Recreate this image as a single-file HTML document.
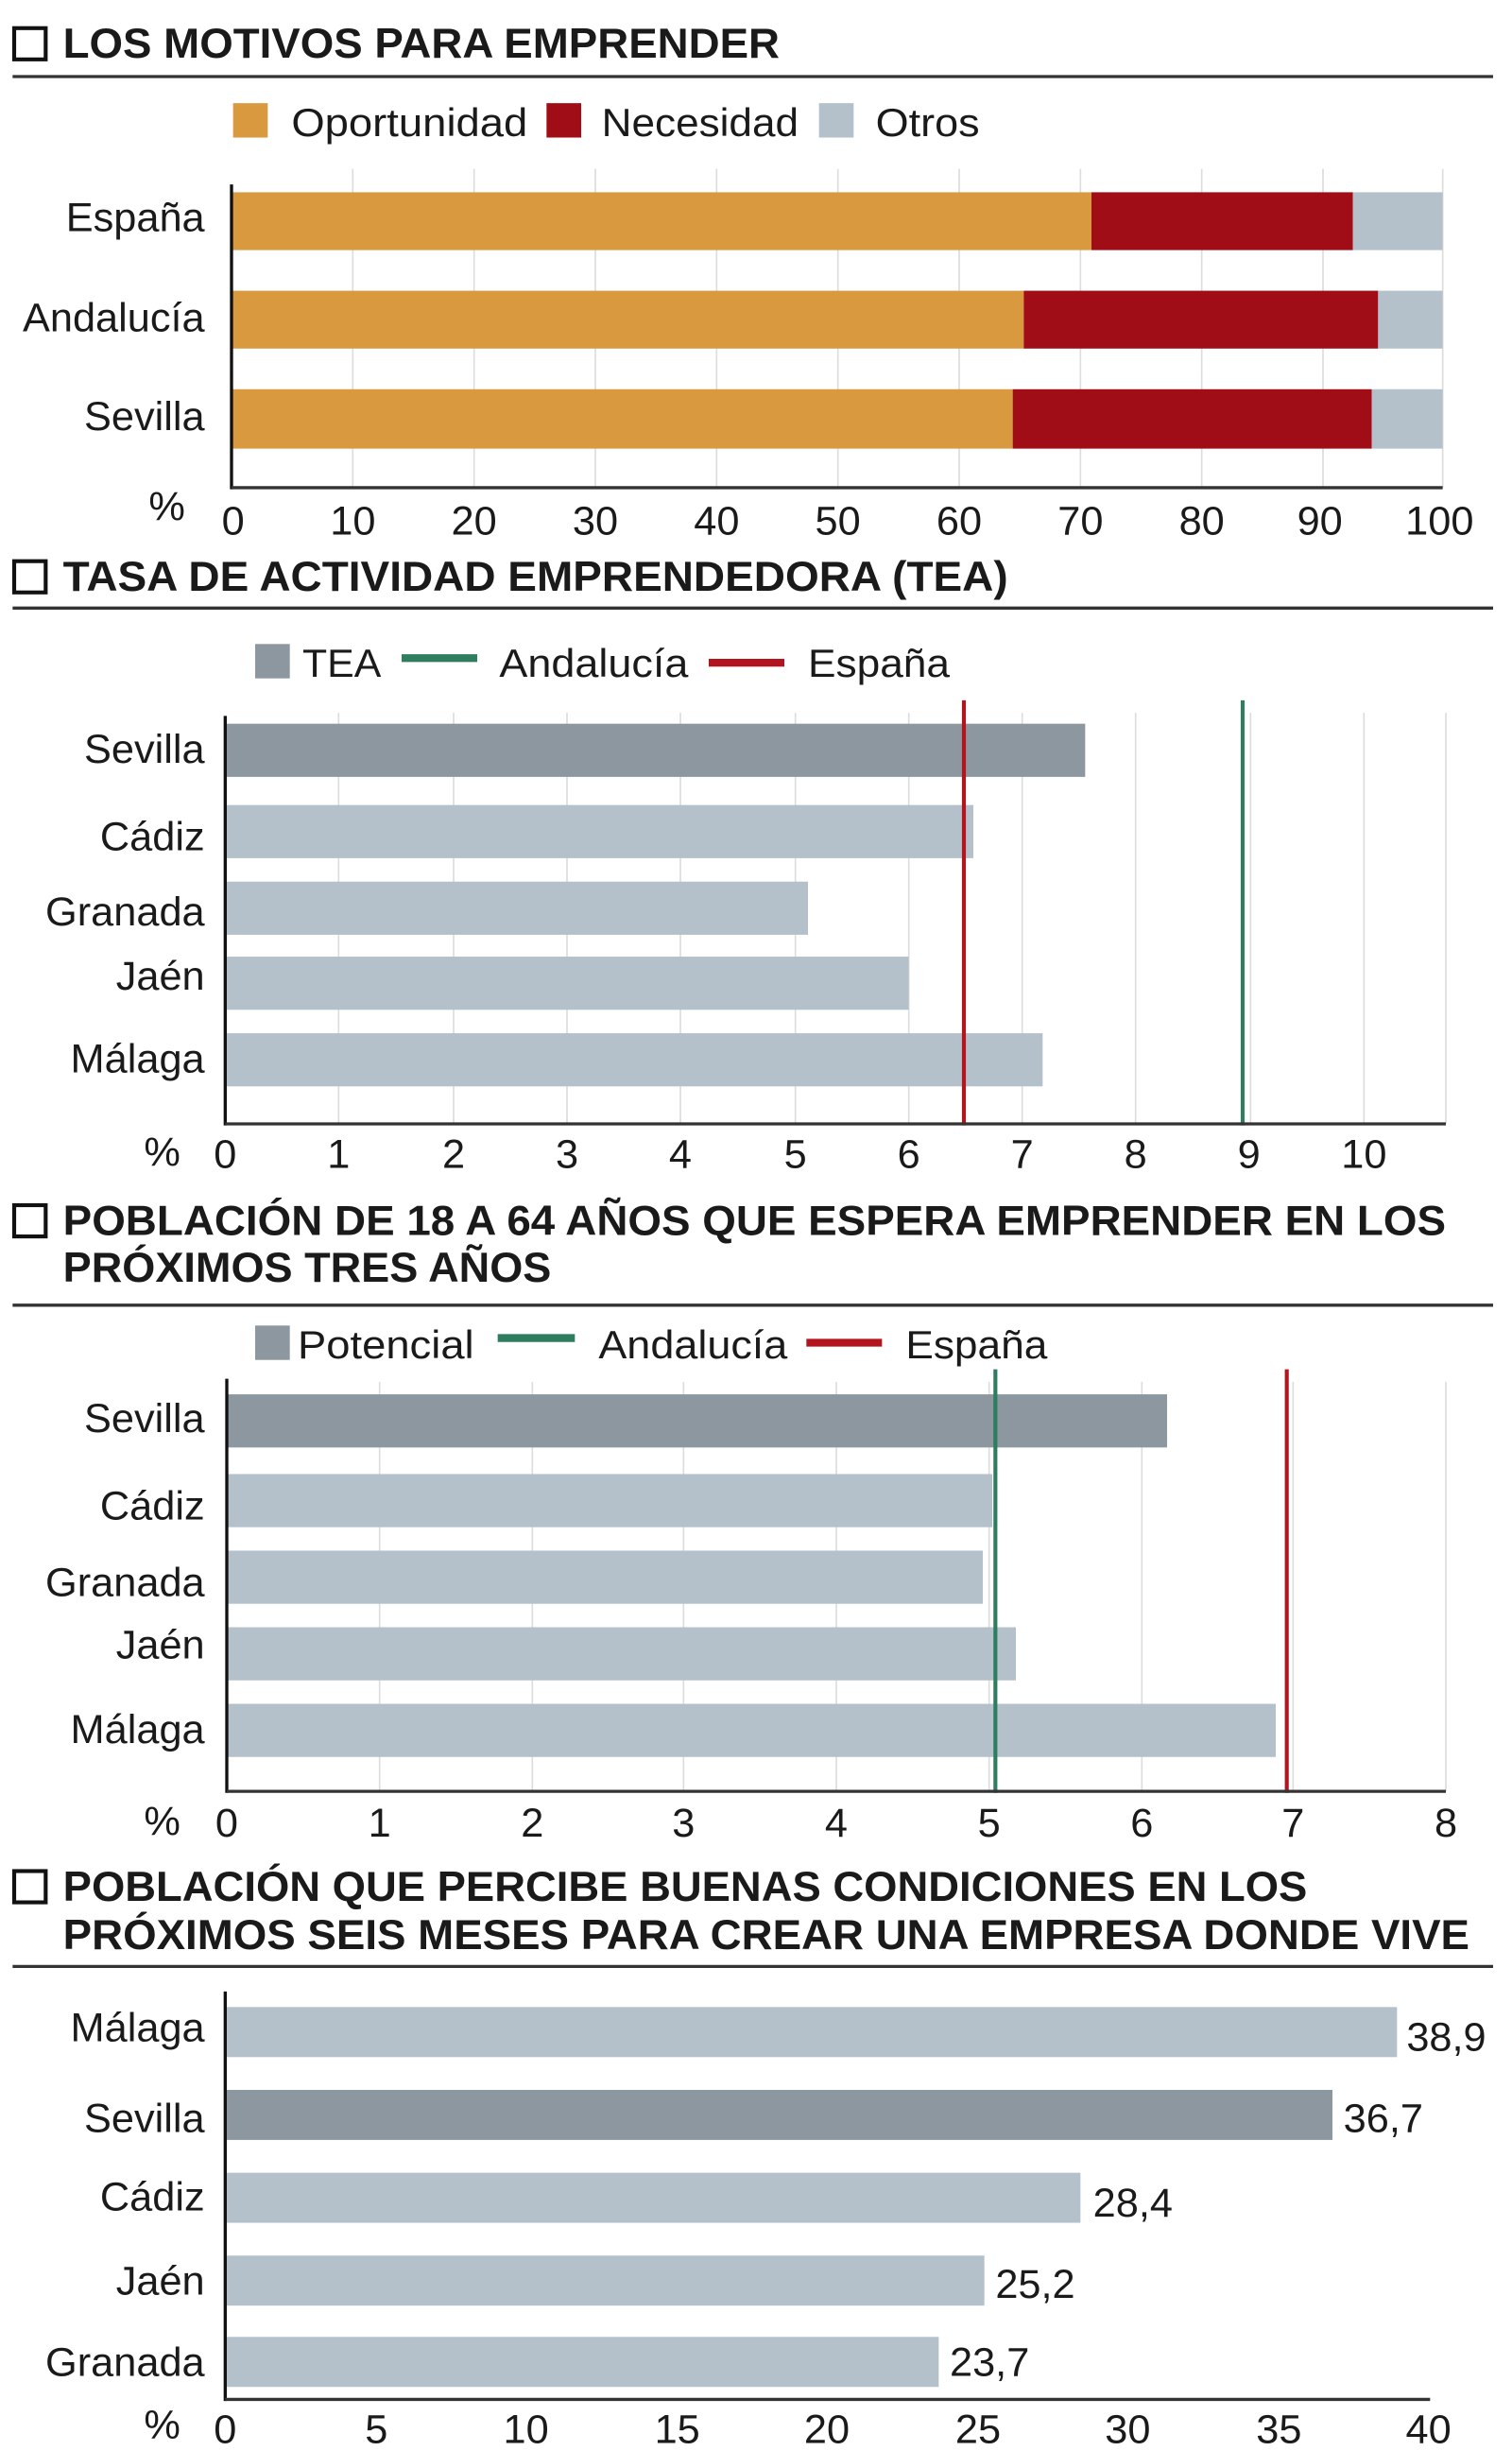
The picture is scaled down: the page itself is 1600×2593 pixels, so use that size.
<!DOCTYPE html>
<html><head><meta charset="utf-8"><style>
html,body{margin:0;padding:0;background:#fff}
svg{display:block}
text{font-family:"Liberation Sans",sans-serif;fill:#1a1a1a}
.t{font-weight:bold;font-size:27px}
.l{font-size:25px}
.k{font-size:26px}
</style></head><body>
<svg width="1600" height="2593" viewBox="0 0 960 1568" preserveAspectRatio="none" xmlns="http://www.w3.org/2000/svg">
<!-- Section 1 -->
<rect x="9" y="18" width="20" height="20" fill="none" stroke="#111" stroke-width="2.5"/>
<text class="t" x="40" y="37" textLength="455" lengthAdjust="spacingAndGlyphs">LOS MOTIVOS PARA EMPRENDER</text>
<line x1="8" y1="49" x2="948" y2="49" stroke="#333" stroke-width="2"/>
<rect x="148" y="66" width="22" height="22" fill="#d99a3f"/><text class="l" x="185" y="87" textLength="150" lengthAdjust="spacingAndGlyphs">Oportunidad</text>
<rect x="347" y="66" width="22" height="22" fill="#a10d16"/><text class="l" x="382" y="87" textLength="125" lengthAdjust="spacingAndGlyphs">Necesidad</text>
<rect x="520" y="66" width="22" height="22" fill="#b4c1ca"/><text class="l" x="556" y="87" textLength="66" lengthAdjust="spacingAndGlyphs">Otros</text>
<g stroke="#ddd" stroke-width="1">
<line x1="224" y1="108" x2="224" y2="312"/><line x1="301" y1="108" x2="301" y2="312"/><line x1="378" y1="108" x2="378" y2="312"/><line x1="455" y1="108" x2="455" y2="312"/><line x1="532" y1="108" x2="532" y2="312"/><line x1="609" y1="108" x2="609" y2="312"/><line x1="686" y1="108" x2="686" y2="312"/><line x1="763" y1="108" x2="763" y2="312"/><line x1="840" y1="108" x2="840" y2="312"/><line x1="916" y1="108" x2="916" y2="312"/>
</g>
<rect x="147" y="123" width="546" height="37" fill="#d99a3f"/><rect x="693" y="123" width="166" height="37" fill="#a10d16"/><rect x="859" y="123" width="57" height="37" fill="#b4c1ca"/>
<rect x="147" y="186" width="503" height="37" fill="#d99a3f"/><rect x="650" y="186" width="225" height="37" fill="#a10d16"/><rect x="875" y="186" width="41" height="37" fill="#b4c1ca"/>
<rect x="147" y="249" width="496" height="38" fill="#d99a3f"/><rect x="643" y="249" width="228" height="38" fill="#a10d16"/><rect x="871" y="249" width="45" height="38" fill="#b4c1ca"/>
<line x1="147" y1="118" x2="147" y2="313" stroke="#111" stroke-width="2"/>
<line x1="147" y1="312" x2="916" y2="312" stroke="#333" stroke-width="2"/>
<g class="k" text-anchor="end"><text x="130" y="148">España</text><text x="130" y="212">Andalucía</text><text x="130" y="275">Sevilla</text></g>
<g class="k" text-anchor="middle"><text x="106" y="333">%</text><text x="148" y="342">0</text><text x="224" y="342">10</text><text x="301" y="342">20</text><text x="378" y="342">30</text><text x="455" y="342">40</text><text x="532" y="342">50</text><text x="609" y="342">60</text><text x="686" y="342">70</text><text x="763" y="342">80</text><text x="838" y="342">90</text><text x="914" y="342">100</text></g>

<!-- Section 2 -->
<rect x="9" y="359" width="20" height="20" fill="none" stroke="#111" stroke-width="2.5"/>
<text class="t" x="40" y="378" textLength="600" lengthAdjust="spacingAndGlyphs">TASA DE ACTIVIDAD EMPRENDEDORA (TEA)</text>
<line x1="8" y1="389" x2="948" y2="389" stroke="#333" stroke-width="2"/>
<rect x="162" y="412" width="22" height="22" fill="#8c979f"/><text class="l" x="192" y="433" textLength="50" lengthAdjust="spacingAndGlyphs">TEA</text>
<line x1="255" y1="421" x2="303" y2="421" stroke="#2e7d5e" stroke-width="5"/><text class="l" x="317" y="433" textLength="120" lengthAdjust="spacingAndGlyphs">Andalucía</text>
<line x1="450" y1="424" x2="498" y2="424" stroke="#b3151e" stroke-width="5"/><text class="l" x="513" y="433" textLength="90" lengthAdjust="spacingAndGlyphs">España</text>
<g stroke="#ddd" stroke-width="1">
<line x1="215" y1="456" x2="215" y2="719"/><line x1="288" y1="456" x2="288" y2="719"/><line x1="360" y1="456" x2="360" y2="719"/><line x1="432" y1="456" x2="432" y2="719"/><line x1="505" y1="456" x2="505" y2="719"/><line x1="577" y1="456" x2="577" y2="719"/><line x1="649" y1="456" x2="649" y2="719"/><line x1="721" y1="456" x2="721" y2="719"/><line x1="794" y1="456" x2="794" y2="719"/><line x1="866" y1="456" x2="866" y2="719"/><line x1="918" y1="456" x2="918" y2="719"/>
</g>
<rect x="143" y="463" width="546" height="34" fill="#8c979f"/>
<rect x="143" y="515" width="475" height="34" fill="#b4c1ca"/>
<rect x="143" y="564" width="370" height="34" fill="#b4c1ca"/>
<rect x="143" y="612" width="434" height="34" fill="#b4c1ca"/>
<rect x="143" y="661" width="519" height="34" fill="#b4c1ca"/>
<line x1="612" y1="448" x2="612" y2="720" stroke="#b3151e" stroke-width="2.5"/>
<line x1="789" y1="448" x2="789" y2="720" stroke="#2e7d5e" stroke-width="2.5"/>
<line x1="143" y1="458" x2="143" y2="720" stroke="#111" stroke-width="2"/>
<line x1="143" y1="719" x2="918" y2="719" stroke="#333" stroke-width="2"/>
<g class="k" text-anchor="end"><text x="130" y="488">Sevilla</text><text x="130" y="544">Cádiz</text><text x="130" y="592">Granada</text><text x="130" y="633">Jaén</text><text x="130" y="686">Málaga</text></g>
<g class="k" text-anchor="middle"><text x="103" y="746">%</text><text x="143" y="747">0</text><text x="215" y="747">1</text><text x="288" y="747">2</text><text x="360" y="747">3</text><text x="432" y="747">4</text><text x="505" y="747">5</text><text x="577" y="747">6</text><text x="649" y="747">7</text><text x="721" y="747">8</text><text x="793" y="747">9</text><text x="866" y="747">10</text></g>

<!-- Section 3 -->
<rect x="9" y="771" width="20" height="20" fill="none" stroke="#111" stroke-width="2.5"/>
<text class="t" x="40" y="790" textLength="878" lengthAdjust="spacingAndGlyphs">POBLACIÓN DE 18 A 64 AÑOS QUE ESPERA EMPRENDER EN LOS</text>
<text class="t" x="40" y="820" textLength="310" lengthAdjust="spacingAndGlyphs">PRÓXIMOS TRES AÑOS</text>
<line x1="8" y1="835" x2="948" y2="835" stroke="#333" stroke-width="2"/>
<rect x="162" y="848" width="22" height="22" fill="#8c979f"/><text class="l" x="189" y="869" textLength="112" lengthAdjust="spacingAndGlyphs">Potencial</text>
<line x1="316" y1="856" x2="365" y2="856" stroke="#2e7d5e" stroke-width="5"/><text class="l" x="380" y="869" textLength="120" lengthAdjust="spacingAndGlyphs">Andalucía</text>
<line x1="512" y1="859" x2="560" y2="859" stroke="#b3151e" stroke-width="5"/><text class="l" x="575" y="869" textLength="90" lengthAdjust="spacingAndGlyphs">España</text>
<g stroke="#ddd" stroke-width="1">
<line x1="241" y1="884" x2="241" y2="1146"/><line x1="338" y1="884" x2="338" y2="1146"/><line x1="434" y1="884" x2="434" y2="1146"/><line x1="531" y1="884" x2="531" y2="1146"/><line x1="628" y1="884" x2="628" y2="1146"/><line x1="725" y1="884" x2="725" y2="1146"/><line x1="821" y1="884" x2="821" y2="1146"/><line x1="918" y1="884" x2="918" y2="1146"/>
</g>
<rect x="144" y="892" width="597" height="34" fill="#8c979f"/>
<rect x="144" y="943" width="486" height="34" fill="#b4c1ca"/>
<rect x="144" y="992" width="480" height="34" fill="#b4c1ca"/>
<rect x="144" y="1041" width="501" height="34" fill="#b4c1ca"/>
<rect x="144" y="1090" width="666" height="34" fill="#b4c1ca"/>
<line x1="632" y1="876" x2="632" y2="1147" stroke="#2e7d5e" stroke-width="2.5"/>
<line x1="817" y1="876" x2="817" y2="1147" stroke="#b3151e" stroke-width="2.5"/>
<line x1="144" y1="882" x2="144" y2="1147" stroke="#111" stroke-width="2"/>
<line x1="144" y1="1146" x2="918" y2="1146" stroke="#333" stroke-width="2"/>
<g class="k" text-anchor="end"><text x="130" y="916">Sevilla</text><text x="130" y="972">Cádiz</text><text x="130" y="1021">Granada</text><text x="130" y="1061">Jaén</text><text x="130" y="1115">Málaga</text></g>
<g class="k" text-anchor="middle"><text x="103" y="1174">%</text><text x="144" y="1175">0</text><text x="241" y="1175">1</text><text x="338" y="1175">2</text><text x="434" y="1175">3</text><text x="531" y="1175">4</text><text x="628" y="1175">5</text><text x="725" y="1175">6</text><text x="821" y="1175">7</text><text x="918" y="1175">8</text></g>

<!-- Section 4 -->
<rect x="9" y="1197" width="20" height="20" fill="none" stroke="#111" stroke-width="2.5"/>
<text class="t" x="40" y="1216" textLength="790" lengthAdjust="spacingAndGlyphs">POBLACIÓN QUE PERCIBE BUENAS CONDICIONES EN LOS</text>
<text class="t" x="40" y="1247" textLength="893" lengthAdjust="spacingAndGlyphs">PRÓXIMOS SEIS MESES PARA CREAR UNA EMPRESA DONDE VIVE</text>
<line x1="8" y1="1258" x2="948" y2="1258" stroke="#333" stroke-width="2"/>
<rect x="143" y="1284" width="744" height="32" fill="#b4c1ca"/>
<rect x="143" y="1337" width="703" height="32" fill="#8c979f"/>
<rect x="143" y="1390" width="543" height="32" fill="#b4c1ca"/>
<rect x="143" y="1443" width="482" height="32" fill="#b4c1ca"/>
<rect x="143" y="1495" width="453" height="32" fill="#b4c1ca"/>
<line x1="143" y1="1274" x2="143" y2="1536" stroke="#111" stroke-width="2"/>
<line x1="143" y1="1535" x2="908" y2="1535" stroke="#333" stroke-width="2"/>
<g class="k"><text x="893" y="1312">38,9</text><text x="853" y="1364">36,7</text><text x="694" y="1418">28,4</text><text x="632" y="1470">25,2</text><text x="603" y="1520">23,7</text></g>
<g class="k" text-anchor="end"><text x="130" y="1306">Málaga</text><text x="130" y="1364">Sevilla</text><text x="130" y="1414">Cádiz</text><text x="130" y="1468">Jaén</text><text x="130" y="1520">Granada</text></g>
<g class="k" text-anchor="middle"><text x="103" y="1560">%</text><text x="143" y="1563">0</text><text x="239" y="1563">5</text><text x="334" y="1563">10</text><text x="430" y="1563">15</text><text x="525" y="1563">20</text><text x="621" y="1563">25</text><text x="716" y="1563">30</text><text x="812" y="1563">35</text><text x="907" y="1563">40</text></g>
</svg>
</body></html>
